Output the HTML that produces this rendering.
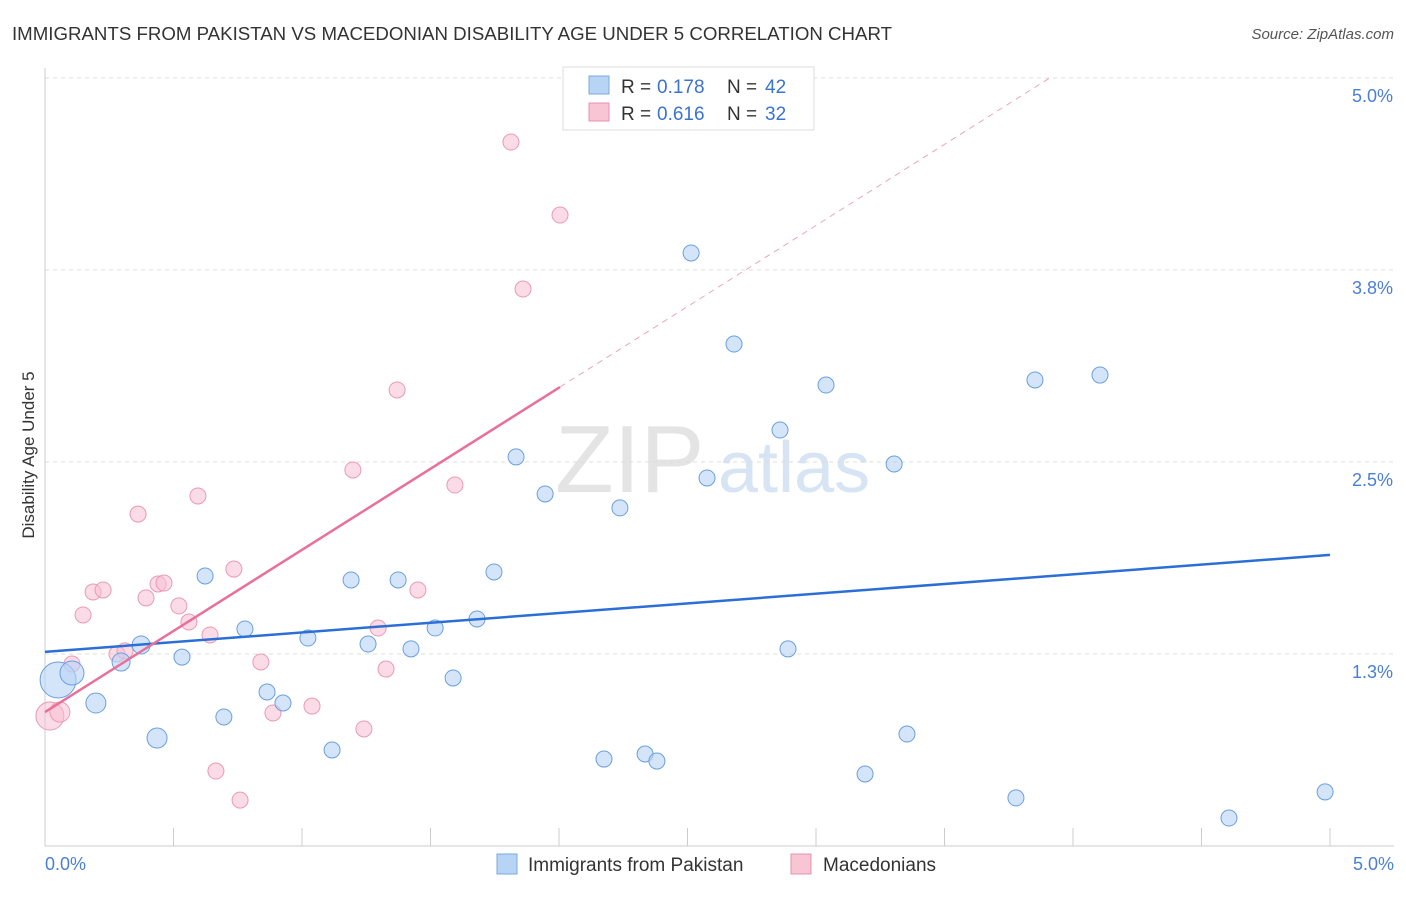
<!DOCTYPE html>
<html><head><meta charset="utf-8"><style>
body{margin:0;background:#fff;font-family:"Liberation Sans",sans-serif}
svg text{font-family:"Liberation Sans",sans-serif}
</style></head><body>
<svg id="c" width="1406" height="892">
<text x="12" y="40" font-size="18" fill="#333" textLength="880" lengthAdjust="spacingAndGlyphs">IMMIGRANTS FROM PAKISTAN VS MACEDONIAN DISABILITY AGE UNDER 5 CORRELATION CHART</text>
<text x="1394" y="39" font-size="15" fill="#555" font-style="italic" text-anchor="end">Source: ZipAtlas.com</text>
<text x="555" y="492" font-size="96" fill="#e4e4e4" font-family="Liberation Serif">ZIP</text>
<text x="718" y="492" font-size="72" fill="#d6e4f4">atlas</text>
<text transform="translate(34,455) rotate(-90)" font-size="17" fill="#333" text-anchor="middle">Disability Age Under 5</text>
<g id="grid"></g><g id="marks"></g>
<g>
<rect x="563" y="67" width="251" height="63" fill="#fff" stroke="#ddd"/>
<rect x="589" y="76" width="20" height="18" fill="#b8d4f5" stroke="#7aa8e0"/>
<text x="621" y="93" font-size="19" fill="#333">R =</text><text x="657" y="93" font-size="19" fill="#3a73d0">0.178</text>
<text x="727" y="93" font-size="19" fill="#333">N =</text><text x="765" y="93" font-size="19" fill="#3a73d0">42</text>
<rect x="589" y="103" width="20" height="18" fill="#f8c5d5" stroke="#e890ab"/>
<text x="621" y="120" font-size="19" fill="#333">R =</text><text x="657" y="120" font-size="19" fill="#3a73d0">0.616</text>
<text x="727" y="120" font-size="19" fill="#333">N =</text><text x="765" y="120" font-size="19" fill="#3a73d0">32</text>
</g>
<g>
<rect x="497" y="854" width="20" height="20" fill="#b8d4f5" stroke="#7aa8e0"/>
<text x="528" y="871" font-size="19" fill="#333">Immigrants from Pakistan</text>
<rect x="791" y="854" width="20" height="20" fill="#f8c5d5" stroke="#e890ab"/>
<text x="823" y="871" font-size="19" fill="#333">Macedonians</text>
</g>
</svg>
<script>
const yTicks=[1.25,2.5,3.75,5.0];
const yTickLabels=["1.3%","2.5%","3.8%","5.0%"];
const xTickLabels=["0.0%","5.0%"];
const blueX=[0.051,0.105,0.198,0.296,0.374,0.436,0.533,0.623,0.696,0.778,0.864,0.926,1.023,1.117,1.191,1.257,1.374,1.424,1.518,1.588,1.681,1.747,1.833,1.946,2.175,2.237,2.335,2.381,2.514,2.576,2.681,2.860,2.891,3.039,3.191,3.304,3.354,3.778,3.852,4.105,4.607,4.981];
const blueY=[1.081,1.126,0.931,1.198,1.309,0.703,1.230,1.758,0.840,1.413,1.003,0.931,1.354,0.625,1.732,1.315,1.732,1.283,1.419,1.094,1.478,1.784,2.533,2.292,0.566,2.201,0.599,0.553,3.861,2.396,3.268,2.708,1.283,3.001,0.469,2.487,0.729,0.313,3.034,3.066,0.182,0.352];
const blueR=[18,12,10,9,9,10,8,8,8,8,8,8,8,8,8,8,8,8,8,8,8,8,8,8,8,8,8,8,8,8,8,8,8,8,8,8,8,8,8,8,8,8];
const pinkX=[0.019,0.058,0.105,0.148,0.187,0.226,0.280,0.311,0.362,0.393,0.440,0.463,0.521,0.560,0.595,0.642,0.665,0.735,0.759,0.840,0.887,1.039,1.198,1.241,1.296,1.327,1.370,1.451,1.595,1.813,1.860,2.004];
const pinkY=[0.846,0.872,1.185,1.504,1.654,1.667,1.250,1.270,2.161,1.615,1.706,1.712,1.563,1.458,2.279,1.374,0.488,1.803,0.299,1.198,0.866,0.911,2.448,0.762,1.419,1.152,2.969,1.667,2.350,4.583,3.626,4.108];
const pinkR=[14,10,8,8,8,8,8,8,8,8,8,8,8,8,8,8,8,8,8,8,8,8,8,8,8,8,8,8,8,8,8,8];
const blueTrend=[1.264,1.895];
const pinkTrend=[0.872,1.056];
const X=v=>45+v*257, Y=v=>846-v*153.6;
const NS="http://www.w3.org/2000/svg";
function mk(p,tag,a){const e=document.createElementNS(NS,tag);for(const k in a)e.setAttribute(k,a[k]);p.appendChild(e);return e;}
const g=document.getElementById('grid'), m=document.getElementById('marks');
yTicks.forEach((t,i)=>{
 const l=mk(g,'line',{x1:45,x2:1394,y1:Y(t),y2:Y(t),stroke:'#ddd','stroke-dasharray':'4,4'});
 
 
 const tx=mk(g,'text',{x:1393,y:Y(t)+24,'font-size':18,fill:'#4a7fd6','text-anchor':'end'});tx.textContent=yTickLabels[i];
 
 
});
const ax=mk(g,'line',{x1:45,x2:1394,y1:846,y2:846,stroke:'#ccc'});


const ay=mk(g,'line',{x1:45,x2:45,y1:68,y2:846,stroke:'#ccc'});


for(let i=1;i<=10;i++){const t=mk(g,'line',{x1:X(i*0.5),x2:X(i*0.5),y1:828,y2:846,stroke:'#ccc'});
 
 }
[[0,'start',45],[5,'end',1394]].forEach((d,i)=>{const t=mk(g,'text',{x:d[2],y:870,'font-size':18,fill:'#4a7fd6','text-anchor':d[1]});t.textContent=xTickLabels[i];
 
 });
pinkX.forEach((x,i)=>{const c=mk(m,'circle',{cx:X(x),cy:Y(pinkY[i]),r:pinkR[i],fill:'rgba(248,190,210,0.55)',stroke:'#eb9ab4','stroke-width':1});
 
 });
blueX.forEach((x,i)=>{const c=mk(m,'circle',{cx:X(x),cy:Y(blueY[i]),r:blueR[i],fill:'rgba(184,212,245,0.6)',stroke:'#6a9fe0','stroke-width':1});
 
 });
const bl=mk(m,'line',{x1:X(0),y1:Y(blueTrend[0]),x2:X(5),y2:Y(blueTrend[1]),stroke:'#2b6fd6','stroke-width':2.5});


const pEnd=2.004, pDash=(5-pinkTrend[0])/pinkTrend[1];
const pl=mk(m,'line',{x1:X(0),y1:Y(pinkTrend[0]),x2:X(pEnd),y2:Y(pinkTrend[0]+pinkTrend[1]*pEnd),stroke:'#e8709a','stroke-width':2.5});


const pd=mk(m,'line',{x1:X(pEnd),y1:Y(pinkTrend[0]+pinkTrend[1]*pEnd),x2:X(pDash),y2:Y(5),stroke:'#eca5bd','stroke-width':1,'stroke-dasharray':'6,5'});


</script>
</body></html>
